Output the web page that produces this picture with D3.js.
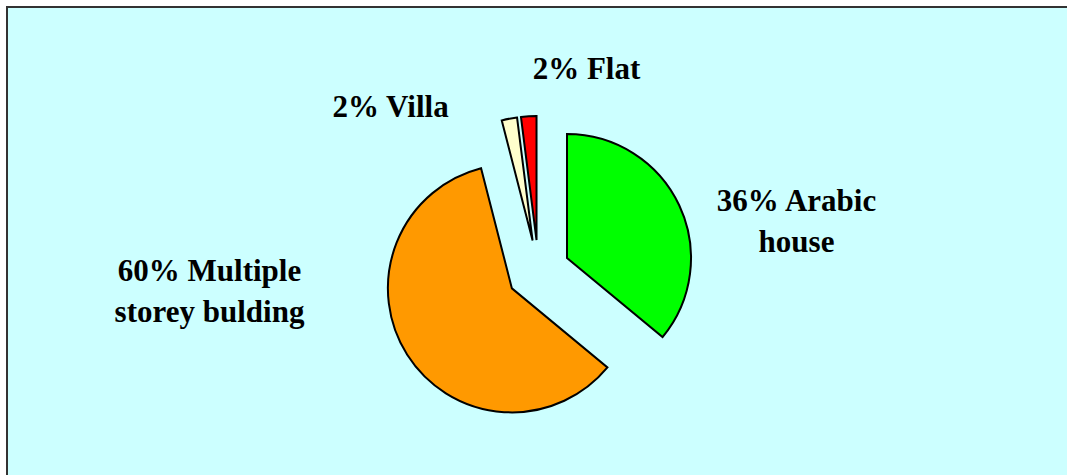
<!DOCTYPE html>
<html>
<head>
<meta charset="utf-8">
<script src="https://cdn.jsdelivr.net/npm/d3@7"></script>
<style>
  body { margin: 0; background: #fff; overflow: hidden; }
  .lbl { font-family: "Liberation Serif", "Times New Roman", serif; font-weight: bold; font-size: 31px; fill: #000; }
</style>
</head>
<body>
<script>
// data
var categories = ["Arabic house", "Multiple storey bulding", "Villa", "Flat"];
var values = [36, 60, 2, 2];
var labelLines = [["36% Arabic", "house"], ["60% Multiple", "storey bulding"], ["2% Villa"], ["2% Flat"]];
var colors = ["#00FF00", "#FF9900", "#FFFFCC", "#FF0000"];

var width = 1067, height = 475;
var cx = 538.5, cy = 271.5, radius = 124, explode = 31.5;
// label centre offsets from pie centre (first baseline)
var labelPos = [[258, -61], [-329, 9], [-148, -155], [48, -193]];
var lineH = 41;

var svg = d3.select("body")
    .append("svg")
    .attr("width", width)
    .attr("height", height)
    .style("display", "block");

// plot background, only top and left edges fall inside the window
svg.append("rect")
    .attr("x", 7).attr("y", 7)
    .attr("width", width).attr("height", height)
    .attr("fill", "#CCFFFF");

svg.append("path")
    .attr("d", "M7," + height + "V7H" + width)
    .attr("fill", "none")
    .attr("stroke", "#333")
    .attr("stroke-width", 2);

var pie = d3.pie().sort(null).value(function(d) { return d; });
var arc = d3.arc().innerRadius(0).outerRadius(radius);

var slices = pie(values);

var g = svg.append("g")
    .attr("transform", "translate(" + cx + "," + cy + ")");

g.selectAll(".slice")
    .data(slices)
    .enter().append("path")
    .attr("class", "slice")
    .attr("d", arc)
    .attr("fill", function(d, i) { return colors[i]; })
    .attr("stroke", "#000")
    .attr("stroke-width", 2)
    .attr("transform", function(d) {
        var a = (d.startAngle + d.endAngle) / 2;
        return "translate(" + (explode * Math.sin(a)) + "," + (-explode * Math.cos(a)) + ")";
    });

var labels = g.selectAll(".lbl")
    .data(slices)
    .enter().append("text")
    .attr("class", "lbl")
    .attr("text-anchor", "middle")
    .attr("x", function(d, i) { return labelPos[i][0]; })
    .attr("y", function(d, i) { return labelPos[i][1]; });

labels.each(function(d, i) {
    var t = d3.select(this);
    labelLines[i].forEach(function(line, j) {
        t.append("tspan")
            .attr("x", labelPos[i][0])
            .attr("dy", j === 0 ? 0 : lineH)
            .text(line);
    });
});
</script>
</body>
</html>
